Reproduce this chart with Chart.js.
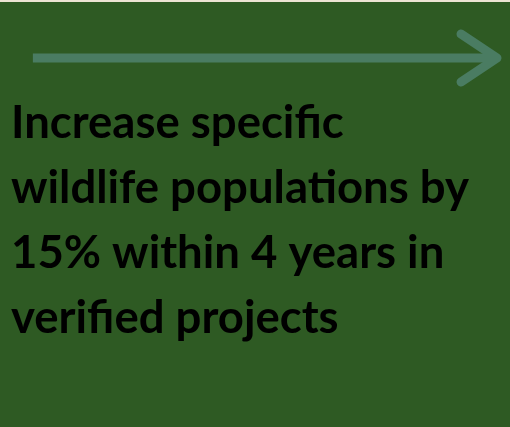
<!DOCTYPE html>
<html>
<head>
<meta charset="utf-8">
<script src="https://cdn.jsdelivr.net/npm/chart.js@4"></script>
<style>
  html, body { margin: 0; padding: 0; background: #ede4d3; }
  #wrap { position: absolute; left: 0; top: 2px; width: 510px; height: 425px; background: #2e5a23; }
</style>
</head>
<body>
<div id="wrap"><canvas id="goal-chart" width="510" height="425"></canvas></div>
<script>
"use strict";

// arrow shaft and head, in scale units (x 0..100, y -1..1)
const shaftX = [4.5, 100];
const shaftY = [0, 0];
const headX = [92.6, 100, 92.6];
const headY = [1, 0, -1];

// \u200C keeps Lato from joining "fi" into a ligature
const goalLines = [
    'Increase speci\u200Cfic',
    'wildlife populations by',
    '15% within 4 years in',
    'veri\u200Cfied projects'
];

const arrowColor = '#4a7c62';

const toPoints = (xs, ys) => xs.map((x, i) => ({ x: x, y: ys[i] }));

const ctx = document.getElementById('goal-chart').getContext('2d');

new Chart(ctx, {
    type: 'line',
    data: {
        datasets: [
            {
                data: toPoints(shaftX, shaftY),
                borderColor: arrowColor,
                borderWidth: 9,
                borderCapStyle: 'butt',
                pointRadius: 0,
                clip: false
            },
            {
                data: toPoints(headX, headY),
                borderColor: arrowColor,
                borderWidth: 9,
                borderCapStyle: 'round',
                borderJoinStyle: 'round',
                pointRadius: 0,
                clip: false
            }
        ]
    },
    options: {
        responsive: false,
        animation: false,
        layout: {
            padding: { top: 32, left: 11, right: 13, bottom: 0 }
        },
        plugins: {
            legend: { display: false },
            tooltip: { enabled: false },
            title: {
                display: true,
                position: 'bottom',
                align: 'start',
                text: goalLines,
                color: '#000000',
                font: { family: 'Lato', size: 45.5, weight: 'bold', lineHeight: 65 / 45.5 },
                padding: { top: 9, bottom: 76 }
            }
        },
        scales: {
            x: { type: 'linear', min: 0, max: 100, display: false },
            y: { type: 'linear', min: -1, max: 1, display: false }
        }
    }
});
</script>
</body>
</html>
